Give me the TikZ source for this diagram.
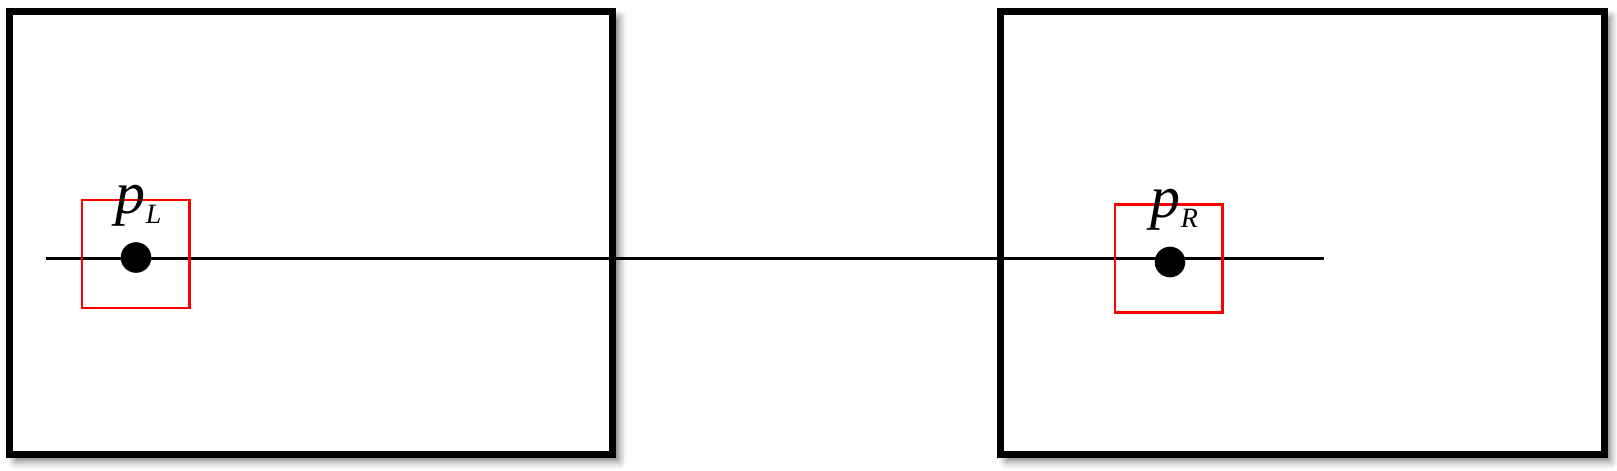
\documentclass[tikz,border=0pt]{standalone}
\usepackage{fontspec}
\setmainfont{Liberation Serif}
\usetikzlibrary{shadows.blur}

\tikzset{every picture/.style={line width=0.75pt}}
\tikzset{
  imgframe/.style={draw=black, line width=3.5pt, fill=white,
    blur shadow={shadow xshift=3pt, shadow yshift=-3pt, shadow blur radius=4pt, shadow opacity=60}},
  baseline line/.style={draw=black, line width=1.65pt},
  window/.style={draw=red, line width=1.4pt, minimum width=53.75pt, minimum height=54pt, inner sep=0pt},
  ptdot/.style={circle, fill=black, minimum size=15.3pt, inner sep=0pt},
  ptlabel/.style={anchor=base west, inner sep=0pt}
}
\newcommand{\ptname}[2]{{\fontsize{30}{32}\selectfont\itshape #1}\raisebox{-5pt}{\fontsize{14}{15}\selectfont\itshape #2}}

\begin{document}
\begin{tikzpicture}[x=0.5pt,y=0.5pt,yscale=-1,xscale=1]
\useasboundingbox (0,0) rectangle (1617,471);

%Shape: Rectangle [left image]
\draw [imgframe] (9.5,11.5) rectangle (612.5,454.5);
%Shape: Rectangle [right image]
\draw [imgframe] (1000.5,11.5) rectangle (1604,454.5);

%Straight Lines [baseline]
\coordinate (lineS) at (46,258.5);
\coordinate (lineE) at (1324,258.5);
\draw [baseline line] (lineS) -- (lineE);

%Shape: Square [search windows]
\node [window] (winL) at (135.75,254) {};
\node [window] (winR) at (1168.75,258.75) {};

%Shape: Circle [points]
\node [ptdot] (ptL) at (136,257.5) {};
\node [ptdot] (ptR) at (1170,262) {};

% Text Node
\node [ptlabel] (lblL) at (115,213) {\ptname{p}{L}};
% Text Node
\node [ptlabel] (lblR) at (1150,217) {\ptname{p}{R}};

\end{tikzpicture}
\end{document}
